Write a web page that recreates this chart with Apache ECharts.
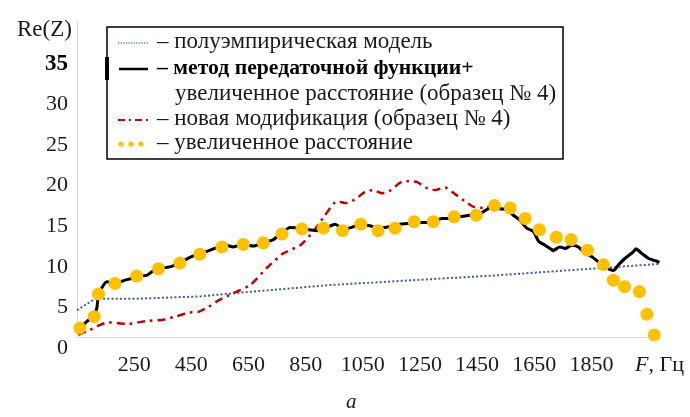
<!DOCTYPE html>
<html>
<head>
<meta charset="utf-8">
<script src="https://cdn.jsdelivr.net/npm/echarts@6/dist/echarts.min.js"></script>
<style>
html,body{margin:0;padding:0;background:#fff;}
#chart{width:690px;height:417px;}
</style>
</head>
<body>
<div id="chart"></div>
<script>
// ---- data ----
// semi-empirical model (blue dotted)
const blueF = [50, 113, 250, 480, 600, 935, 1520, 2088];
const blueV = [3.3, 4.7, 4.7, 5.0, 5.4, 6.4, 7.6, 9.0];

// transfer function method + increased distance (black)
const blackF = [55, 84, 107, 119, 125, 136, 154, 183, 218, 241, 265, 294, 323, 352, 381, 405, 428, 451, 480, 510, 545, 568, 597, 632, 667, 702, 737, 766, 795, 830, 860, 889, 918, 953, 982, 1011, 1046, 1075, 1105, 1146, 1180, 1215, 1250, 1291, 1326, 1355, 1390, 1425, 1460, 1484, 1507, 1530, 1554, 1577, 1600, 1624, 1647, 1665, 1688, 1717, 1740, 1758, 1781, 1804, 1822, 1851, 1880, 1904, 1927, 1945, 1968, 1991, 2006, 2026, 2049, 2073, 2088];
const blackV = [0.9, 1.9, 2.6, 3.5, 5.2, 6.0, 6.8, 6.6, 7.0, 7.2, 7.5, 7.6, 8.3, 8.5, 8.7, 9.1, 9.5, 9.9, 10.3, 10.6, 11.1, 11.3, 11.1, 11.4, 11.2, 11.6, 12.0, 12.8, 13.5, 13.4, 13.2, 13.1, 13.4, 13.9, 13.3, 13.5, 13.9, 13.7, 13.4, 13.6, 13.9, 14.0, 14.1, 14.1, 14.6, 14.6, 14.8, 15.0, 15.2, 15.7, 16.1, 15.8, 15.7, 15.0, 14.4, 13.4, 13.0, 11.8, 11.3, 10.7, 11.1, 10.9, 11.3, 11.1, 10.5, 9.9, 9.1, 8.5, 8.2, 8.9, 9.7, 10.3, 10.8, 10.3, 9.7, 9.4, 9.2];

// new modification (red dash-dot)
const redF = [55, 96, 131, 160, 195, 230, 265, 300, 347, 393, 440, 475, 510, 545, 597, 656, 714, 772, 831, 877, 918, 959, 994, 1029, 1058, 1087, 1116, 1149, 1180, 1210, 1239, 1271, 1303, 1338, 1373, 1408, 1440, 1475, 1507, 1530, 1554, 1577, 1600, 1624, 1647, 1665, 1688, 1717, 1740, 1758, 1781, 1804, 1822, 1851, 1880, 1904, 1927, 1945, 1968, 1991, 2006, 2026, 2049, 2073, 2088];
const redV = [0.25, 0.9, 1.5, 1.8, 1.7, 1.6, 1.8, 2.0, 2.1, 2.5, 3.0, 3.1, 3.7, 4.5, 5.4, 6.4, 8.5, 10.3, 11.3, 13.0, 15.0, 16.7, 16.5, 17.1, 17.9, 18.1, 17.7, 18.1, 19.0, 19.2, 19.1, 18.4, 18.1, 18.4, 17.6, 16.7, 16.0, 15.9, 16.2, 15.8, 15.7, 15.0, 14.4, 13.4, 13.0, 11.8, 11.3, 10.6, 11.1, 10.9, 11.4, 11.1, 10.5, 9.9, 9.1, 8.5, 8.2, 8.9, 9.7, 10.4, 10.9, 10.4, 9.7, 9.4, 9.2];

// increased distance (yellow dots)
const dotF = [60, 110, 125, 183, 259, 335, 410, 480, 557, 632, 702, 767, 837, 912, 979, 1043, 1103, 1163, 1230, 1297, 1370, 1447, 1511, 1566, 1618, 1668, 1727, 1779, 1836, 1892, 1927, 1966, 2018, 2044, 2070];
const dotV = [1.1, 2.5, 5.3, 6.6, 7.5, 8.4, 9.1, 10.2, 11.1, 11.4, 11.6, 12.7, 13.3, 13.4, 13.1, 13.9, 13.1, 13.4, 14.2, 14.2, 14.8, 15.0, 16.2, 15.9, 14.6, 13.2, 12.3, 12.0, 10.7, 8.9, 7.0, 6.2, 5.6, 2.8, 0.25];

// tick labels
const xTickLabels = ['250', '450', '650', '850', '1050', '1250', '1450', '1650', '1850'];
const xUnitLabel = ['F', ', Гц'];
const yTickLabels = ['0', '5', '10', '15', '20', '25', '30', '35'];
const yTitle = 'Re(Z)';
const subCaption = 'a';
const legendTexts = [
  '– полуэмпирическая модель',
  '– метод передаточной функции+',
  'увеличенное расстояние (образец № 4)',
  '– новая модификация (образец № 4)',
  '– увеличенное расстояние'
];

// ---- chart ----
const F0 = 50; // first axis position (Hz)
const pairs = (fs, vs) => fs.map((f, i) => [f - F0, vs[i]]);
const SERIF = '"Liberation Serif", "Times New Roman", serif';

const chart = echarts.init(document.getElementById('chart'), null, {renderer: 'canvas'});
const option = {
  backgroundColor: '#fff',
  animation: false,
  title: [
    {
      text: yTitle,
      left: 12, top: 13,
      textStyle: {fontFamily: SERIF, fontSize: 23, fontWeight: 'normal', color: '#1a1a1a'}
    },
    {
      text: subCaption,
      left: 341, top: 387,
      textStyle: {fontFamily: SERIF, fontSize: 21, fontStyle: 'italic', fontWeight: 'normal', color: '#1a1a1a'}
    }
  ],
  grid: {left: 77, right: 30, top: 22, bottom: 80, containLabel: false, outerBoundsMode: 'none'},
  xAxis: {
    type: 'value', min: 0, max: 2040, interval: 200,
    axisLine: {show: true, lineStyle: {color: '#d9d9d9', width: 1}},
    axisTick: {show: false},
    splitLine: {show: false},
    axisLabel: {
      fontFamily: SERIF, fontSize: 22, color: '#1a1a1a', margin: 17,
      showMinLabel: true, showMaxLabel: true,
      formatter: function (v) {
        const f = Math.round(v + F0);
        const idx = xTickLabels.indexOf(String(f));
        if (idx >= 0) return xTickLabels[idx];
        if (f === 2050) return '{f|' + xUnitLabel[0] + '}{t|' + xUnitLabel[1] + '}';
        return '';
      },
      rich: {
        f: {fontFamily: SERIF, fontSize: 22, fontStyle: 'italic', color: '#1a1a1a', padding: [0, 0, 0, 22]},
        t: {fontFamily: SERIF, fontSize: 22, color: '#1a1a1a'}
      }
    }
  },
  yAxis: {
    type: 'value', min: 0, max: 38.8, interval: 5,
    axisLine: {show: true, lineStyle: {color: '#d9d9d9', width: 1}},
    axisTick: {show: false},
    splitLine: {show: false},
    axisLabel: {
      fontFamily: SERIF, fontSize: 22, color: '#1a1a1a', margin: 9,
      verticalAlign: 'top',
      formatter: function (v) {
        const s = String(Math.round(v));
        if (Math.abs(v - Math.round(v)) > 1e-6 || yTickLabels.indexOf(s) < 0) return '';
        return s === '35' ? '{b|35}' : s;
      },
      rich: {
        b: {fontFamily: SERIF, fontSize: 23, fontWeight: 'bold', color: '#000'}
      }
    }
  },
  series: [
    {
      name: 'blue', type: 'line', data: pairs(blueF, blueV), symbol: 'none', z: 2,
      lineStyle: {color: '#3f5f9e', width: 2, type: [2, 2.2]}
    },
    {
      name: 'red', type: 'line', data: pairs(redF, redV), symbol: 'none', z: 3, smooth: 0.2,
      lineStyle: {color: '#c00000', width: 2.5, type: [8, 5, 2.5, 5]}
    },
    {
      name: 'black', type: 'line', data: pairs(blackF, blackV), symbol: 'none', z: 4, smooth: 0.2,
      lineStyle: {color: '#000', width: 3}
    },
    {
      name: 'dots', type: 'scatter', data: pairs(dotF, dotV), symbol: 'circle', symbolSize: 13, z: 5,
      itemStyle: {color: '#ffc000', opacity: 1}
    }
  ],
  graphic: [
    {type: 'rect', z: 100, shape: {x: 107, y: 27, width: 456, height: 132},
     style: {fill: '#fff', stroke: '#000', lineWidth: 1.5}},
    {type: 'rect', z: 101, shape: {x: 105, y: 57, width: 4, height: 23}, style: {fill: '#000'}},
    {type: 'line', z: 101, shape: {x1: 118, y1: 43, x2: 148, y2: 43},
     style: {stroke: '#6b85b5', lineWidth: 1.3, lineDash: [1.3, 1.3]}},
    {type: 'line', z: 101, shape: {x1: 119, y1: 69, x2: 148, y2: 69},
     style: {stroke: '#000', lineWidth: 2.5}},
    {type: 'line', z: 101, shape: {x1: 118, y1: 120, x2: 148, y2: 120},
     style: {stroke: '#c00000', lineWidth: 2.2, lineDash: [7, 4, 2, 4]}},
    {type: 'circle', z: 101, shape: {cx: 121, cy: 144, r: 2.6}, style: {fill: '#ffc000'}},
    {type: 'circle', z: 101, shape: {cx: 131, cy: 144, r: 2.6}, style: {fill: '#ffc000'}},
    {type: 'circle', z: 101, shape: {cx: 141, cy: 144, r: 2.6}, style: {fill: '#ffc000'}},
    {type: 'text', z: 101, style: {x: 157, y: 42, text: legendTexts[0], font: '23px ' + SERIF, fill: '#1a1a1a', verticalAlign: 'middle', textVerticalAlign: 'middle'}},
    {type: 'text', z: 101, style: {x: 157, y: 68, text: legendTexts[1], font: 'bold 21.7px ' + SERIF, fill: '#000', verticalAlign: 'middle', textVerticalAlign: 'middle'}},
    {type: 'text', z: 101, style: {x: 175, y: 94, text: legendTexts[2], font: '23px ' + SERIF, fill: '#1a1a1a', verticalAlign: 'middle', textVerticalAlign: 'middle'}},
    {type: 'text', z: 101, style: {x: 157, y: 119, text: legendTexts[3], font: '23px ' + SERIF, fill: '#1a1a1a', verticalAlign: 'middle', textVerticalAlign: 'middle'}},
    {type: 'text', z: 101, style: {x: 157, y: 143, text: legendTexts[4], font: '23px ' + SERIF, fill: '#1a1a1a', verticalAlign: 'middle', textVerticalAlign: 'middle'}}
  ]
};
chart.setOption(option);
</script>
</body>
</html>
